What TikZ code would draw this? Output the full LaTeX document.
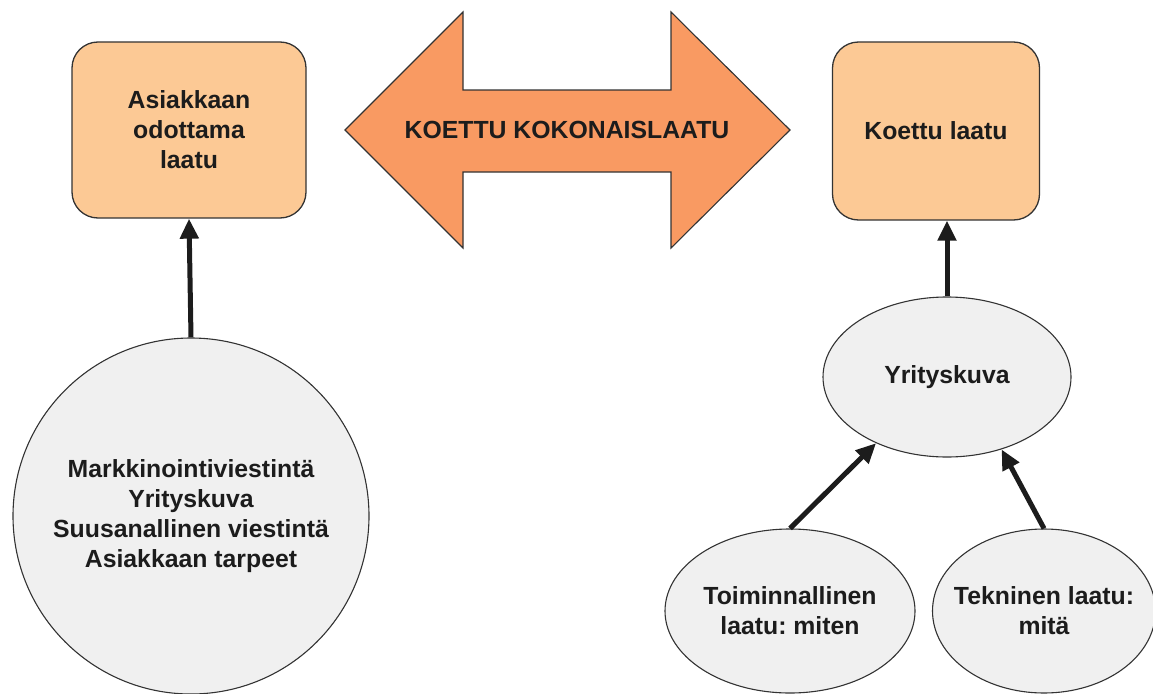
\documentclass[tikz,border=0pt]{standalone}
\usepackage{fontspec}
\setmainfont{Liberation Sans}
\usetikzlibrary{shapes.geometric,arrows.meta}
\definecolor{boxfill}{HTML}{FCC995}
\definecolor{arrowfill}{HTML}{F99A62}
\definecolor{ellfill}{HTML}{F0F0F0}
\definecolor{edge}{HTML}{333333}
\definecolor{ink}{HTML}{1C1C1C}
\tikzset{
  txt/.style={font=\frenchspacing\bfseries\fontsize{24.8}{30}\selectfont, text=ink, align=center},
  qbox/.style={txt, draw=edge, line width=1.3pt, fill=boxfill, rounded corners=26pt, inner sep=0pt},
  oval/.style={txt, draw=edge, line width=1.1pt, fill=ellfill, ellipse, inner sep=-30pt},
  conn/.style={draw=ink, line width=5pt, -{Triangle[length=20pt,width=18pt]}},
}
\begin{document}
\begin{tikzpicture}[x=1pt,y=-1pt]
\useasboundingbox (0,0) rectangle (1153,693);
% double arrow
\draw[draw=edge, line width=1.1pt, fill=arrowfill, line join=miter]
  (345,130) -- (463,12) -- (463,90) -- (671,90) -- (671,12) -- (790,130)
  -- (671,248) -- (671,172) -- (463,172) -- (463,248) -- cycle;
\node[txt] (total) at (567,130) {KOETTU KOKONAISLAATU};
% boxes
\node[qbox, minimum width=234pt, minimum height=176pt] (lbox) at (189,130)
  {Asiakkaan\\odottama\\laatu};
\node[qbox, minimum width=207pt, minimum height=178pt] (rbox) at (936,131)
  {Koettu laatu};
% ellipses
\node[oval, minimum width=356pt, minimum height=356pt] (circ) at (191,516)
  {Markkinointiviestintä\\Yrityskuva\\Suusanallinen viestintä\\Asiakkaan tarpeet};
\node[oval, minimum width=248pt, minimum height=160pt] (yk) at (947,377)
  {Yrityskuva};
\node[oval, minimum width=250pt, minimum height=164pt] (toim) at (790,611)
  {Toiminnallinen\\laatu: miten};
\node[oval, minimum width=223pt, minimum height=164pt] (tekn) at (1044,611)
  {Tekninen laatu:\\mitä};
% connectors
\draw[conn] (circ.north) -- (lbox.south);
\draw[conn] (yk.north) -- (yk.north |- rbox.south);
\draw[conn] (toim.north) -- (yk.223);
\draw[conn] (tekn.north) -- (yk.307);
\end{tikzpicture}
\end{document}
